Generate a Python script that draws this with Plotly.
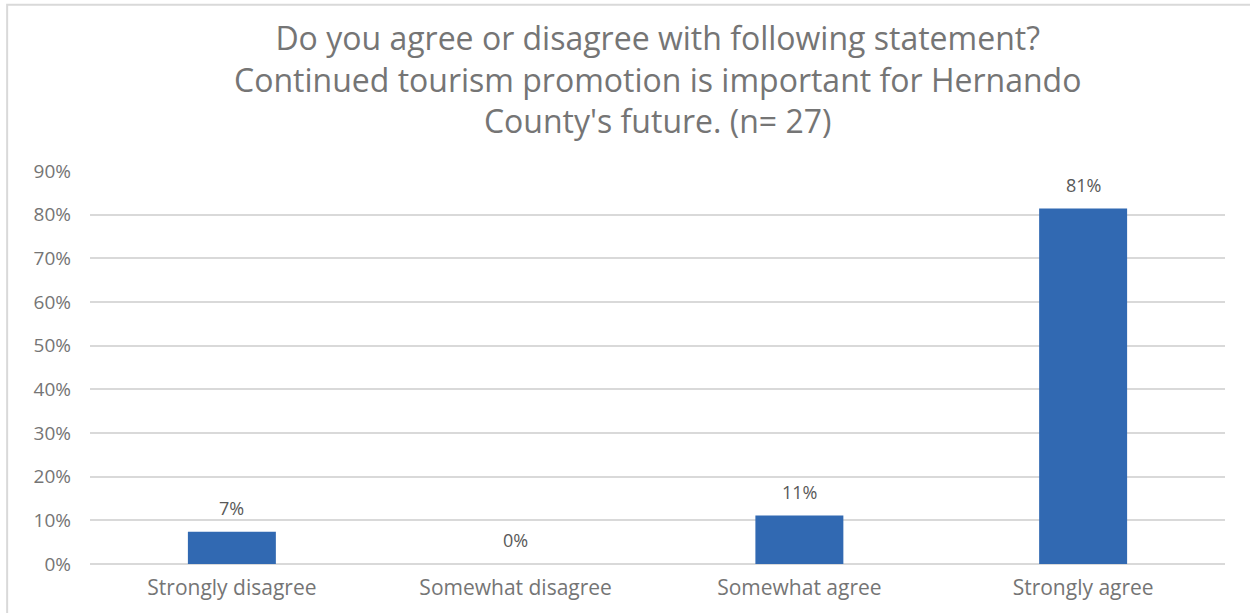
import plotly.graph_objects as go

# Survey responses (n = 27), share of respondents
categories = ["Strongly disagree", "Somewhat disagree", "Somewhat agree", "Strongly agree"]
shares = [0.074, 0.0, 0.111, 0.814]
y_ticks = [0, 0.1, 0.2, 0.3, 0.4, 0.5, 0.6, 0.7, 0.8, 0.9]

title_lines = [
    "Do you agree or disagree with following statement?",
    "Continued tourism promotion is important for Hernando",
    "County's future. (n= 27)",
]

BAR = "#3169B2"
GRID = "#D9D9D9"
TEXT = "#757575"
LABEL = "#595959"
FONT = "Open Sans"

fig = go.Figure()
fig.add_trace(go.Bar(
    x=categories,
    y=shares,
    marker=dict(color=BAR, line=dict(width=0)),
    hoverinfo="skip",
))

# value labels above each bar
for c, v in zip(categories, shares):
    fig.add_annotation(
        x=c, y=v, xref="x", yref="y",
        text=f"{v:.0%}",
        showarrow=False, yanchor="middle", yshift=24,
        font=dict(family=FONT, size=18, color=LABEL),
    )

fig.add_annotation(
    x=0.5, y=1.0, xref="paper", yref="paper",
    yanchor="bottom", yshift=27,
    text="<br>".join(title_lines), showarrow=False,
    font=dict(family=FONT, size=32, color=TEXT),
)

fig.update_layout(
    width=1250, height=613,
    margin=dict(l=90, r=25, t=171, b=49),
    paper_bgcolor="white",
    plot_bgcolor="white",
    bargap=0.69,
    showlegend=False,
    xaxis=dict(
        showgrid=False, showline=False, zeroline=False,
        ticks="", ticklabelstandoff=9,
        tickfont=dict(family=FONT, size=21, color=TEXT),
    ),
    yaxis=dict(
        range=[0, 0.9],
        tickvals=y_ticks,
        tickformat=".0%",
        showgrid=True, gridcolor=GRID, gridwidth=1.5,
        zeroline=True, zerolinecolor=GRID, zerolinewidth=1.5,
        showline=False, ticks="",
        ticklabelstandoff=18,
        tickfont=dict(family=FONT, size=19, color=TEXT),
    ),
)

# chart frame: light edge along the top and left
fig.add_shape(type="path", xref="paper", yref="paper",
              path="M -0.073,-0.15 L -0.073,1.423 L 1.03,1.423",
              line=dict(color=GRID, width=2))

fig.write_html("out.html")
